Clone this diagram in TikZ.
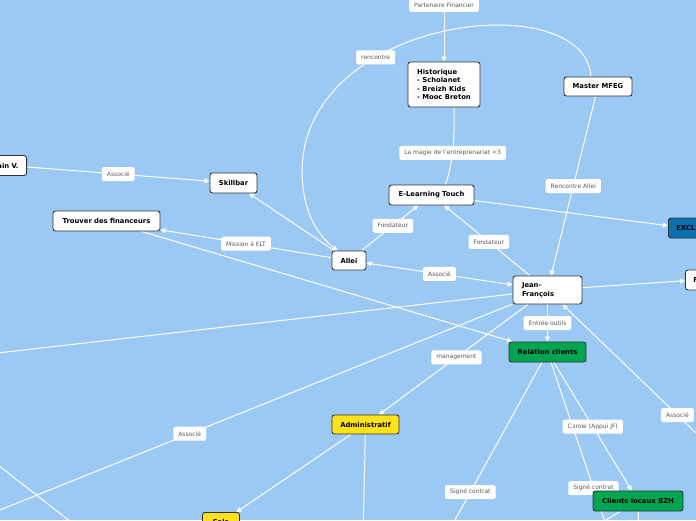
\documentclass[tikz,border=0pt]{standalone}
\usepackage{fontspec}
\setmainfont{DejaVu Sans}
\usetikzlibrary{arrows.meta,backgrounds}
\definecolor{mapsky}{HTML}{9BC9F4}
\definecolor{mapgreen}{HTML}{00A551}
\definecolor{mapyellow}{HTML}{FFE31A}
\definecolor{mapblue}{HTML}{0A70B0}
\definecolor{mapedge}{HTML}{333333}
\definecolor{lblgrey}{HTML}{5A5A5A}

\begin{document}
\begin{tikzpicture}[x=1pt, y=-1pt,
  topic/.style={draw=mapedge, line width=0.9pt, rounded corners=2.5pt, fill=white, font=\bfseries\fontsize{6.8}{8.5}\selectfont, inner xsep=8pt, inner ysep=3pt, minimum height=20pt},
  greentopic/.style={topic, fill=mapgreen},
  yellowtopic/.style={topic, fill=mapyellow},
  bluetopic/.style={topic, fill=mapblue},
  lbl/.style={fill=white, rounded corners=1.5pt, text=lblgrey, font=\fontsize{6}{7}\selectfont, inner xsep=5pt, inner ysep=2pt, minimum height=14pt},
  link/.style={white, line width=1pt},
  arr/.style={link, -{Triangle[width=5pt,length=5pt]}},
]
\useasboundingbox (0,0) rectangle (696,520);

% topics
\node[topic, anchor=east] (alain) at (27,165.5) {ain V.};
\node[topic, minimum width=47pt] (skillbar) at (233.5,183) {Skillbar};
\node[topic, minimum width=107pt] (trouver) at (106.5,221) {Trouver des financeurs};
\node[topic, minimum width=34pt, minimum height=19pt] (allei) at (349,260.5) {Allei};
\node[topic, minimum width=85pt] (elt) at (431.5,195) {E-Learning Touch};
\node[topic, minimum width=72pt, minimum height=45pt, align=left] (histo) at (444,84.5) {Historique\\- Scholanet\\- Breizh Kids\\- Mooc Breton};
\node[topic, minimum width=68pt, minimum height=19pt] (mfeg) at (598,86.5) {Master MFEG};
\node[bluetopic, anchor=west] (excl) at (668,228) {EXCL};
\node[topic, text width=51pt, align=left, minimum height=28pt, inner xsep=9pt] (jf) at (547.5,290) {Jean-\\François};
\node[topic, anchor=west] (fnode) at (685,280) {F};
\node[greentopic, minimum width=77pt] (relation) at (547.5,352) {Relation clients};
\node[yellowtopic, minimum width=67pt, minimum height=19pt] (admin) at (365.5,424.5) {Administratif};
\node[greentopic, minimum width=90pt] (clients) at (638,501) {Clients locaux BZH};
\node[yellowtopic, minimum width=37pt, anchor=north] (sal) at (221,512) {Sala};

% ends outside the frame
\coordinate (pf) at (444,-30);
\coordinate (offl1) at (-20,355);
\coordinate (offl2) at (-30,522);
\coordinate (offl3a) at (-20,451);
\coordinate (offl3b) at (80,529);
\coordinate (offb1) at (363,540);
\coordinate (offb2) at (444,540);
\coordinate (offb3) at (611,540);
\coordinate (offb4) at (572,540);
\coordinate (offb5) at (639,540);
\coordinate (offr) at (720,456);

\begin{scope}[on background layer]
\fill[mapsky] (0,0) rectangle (696,520);
\draw[arr] (alain) -- node[lbl] {Associé} (skillbar);
\draw[arr] (allei) -- (skillbar);
\draw[arr] (allei) -- node[lbl] {Mission à ELT} (trouver);
\draw[arr] (trouver) -- (relation);
\draw[arr] (allei) -- node[lbl, pos=0.55] {Fondateur} (elt);
\draw[arr] (jf) -- node[lbl, pos=0.48] {Fondateur} (elt);
\draw[link, {Triangle[width=5pt,length=5pt]}-{Triangle[width=5pt,length=5pt]}] (jf) -- node[lbl] {Associé} (allei);
\draw[arr] ([xshift=-7pt]mfeg.north) .. controls (585,-15) and (305,15) .. node[lbl, pos=0.67] {rencontre} (302,170)
  .. controls (302,215) and (320,237) .. ([xshift=6pt]allei.north west);
\draw[arr] (pf) -- node[lbl, pos=0.38] {Partenaire Financier} (histo);
\draw[link] ([xshift=10pt]histo.south) .. controls (455,145) and (452,165) .. node[lbl] {La magie de l'entreprenariat <3} ([xshift=14pt]elt.north);
\draw[arr] (mfeg) -- node[lbl] {Rencontre Allei} (jf);
\draw[arr] (elt) -- (excl);
\draw[arr] (jf) -- (fnode);
\draw[link] (jf) -- (offl1);
\draw[link] (jf) -- node[lbl, pos=0.595] {Associé} (offl2);
\draw[link] (offl3a) -- (offl3b);
\draw[arr] (admin) -- (sal);
\draw[link] (admin) -- (offb1);
\draw[arr] (jf) -- node[lbl] {Entrée outils} (relation);
\draw[arr] (jf) -- node[lbl, pos=0.48] {management} (admin);
\draw[link] (relation) -- node[lbl, pos=0.73] {Signé contrat} (offb2);
\draw[arr] (relation) -- node[lbl] {Carole (Appui JF)} (clients);
\draw[link] (relation) -- node[lbl, pos=0.708] {Signé contrat} (offb3);
\draw[link] (clients) -- (offb4);
\draw[link] (clients) -- (offb5);
\draw[arr] (offr) -- node[lbl, pos=0.27] {Associé} (jf);
\end{scope}
\end{tikzpicture}
\end{document}
